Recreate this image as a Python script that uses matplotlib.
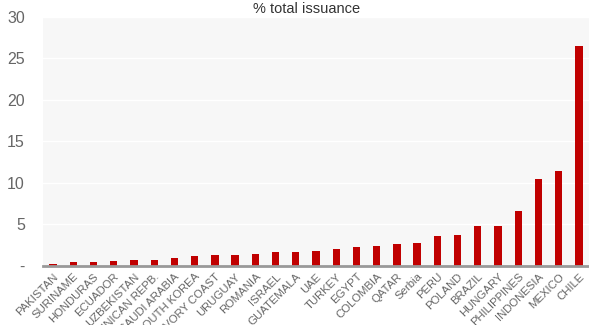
import matplotlib.pyplot as plt

plt.rcParams['font.family'] = ['Liberation Sans', 'DejaVu Sans']

# Data
countries = ["PAKISTAN", "SURINAME", "HONDURAS", "ECUADOR", "UZBEKISTAN",
             "DOMINICAN REPB.", "SAUDI ARABIA", "SOUTH KOREA", "IVORY COAST",
             "URUGUAY", "ROMANIA", "ISRAEL", "GUATEMALA", "UAE", "TURKEY",
             "EGYPT", "COLOMBIA", "QATAR", "Serbia", "PERU", "POLAND",
             "BRAZIL", "HUNGARY", "PHILIPPINES", "INDONESIA", "MEXICO", "CHILE"]
share = [0.2, 0.52, 0.52, 0.64, 0.76, 0.76, 1.0, 1.2, 1.32, 1.32, 1.44,
         1.68, 1.68, 1.76, 2.0, 2.24, 2.36, 2.6, 2.72, 3.64, 3.76, 4.8,
         4.8, 6.64, 10.48, 11.44, 26.5]
yticks = [0, 5, 10, 15, 20, 25, 30]
ytick_labels = ["-", "5", "10", "15", "20", "25", "30"]

fig = plt.figure(figsize=(5.89, 3.25), dpi=100)
ax = fig.add_axes([0.073, 0.182, 0.927, 0.766])
ax.set_facecolor("#f7f7f7")

x = range(len(countries))
ax.bar(x, share, width=0.36, color="#c00000", zorder=3)

ax.set_xlim(-0.5, len(countries) - 0.5)
ax.set_ylim(0, 30)
ax.set_yticks(yticks)
ax.set_yticklabels(ytick_labels, fontsize=11.5, color="#666666")
ax.tick_params(axis="y", length=0, pad=13)
ax.grid(axis="y", color="white", linewidth=1, zorder=1)

ax.set_xticks(list(x))
ax.set_xticklabels(countries, rotation=45, ha="right", rotation_mode="anchor",
                   fontsize=8.2, color="#666666")
ax.tick_params(axis="x", length=0, pad=4)

for side in ["top", "right", "left"]:
    ax.spines[side].set_visible(False)
ax.spines["bottom"].set_color("#999999")
ax.spines["bottom"].set_linewidth(2)
ax.spines["bottom"].set_zorder(4)

fig.text(0.521, 0.972, "% total issuance", ha="center", va="center",
         fontsize=10.5, color="#333333")

fig.savefig("out.png", dpi=100)
